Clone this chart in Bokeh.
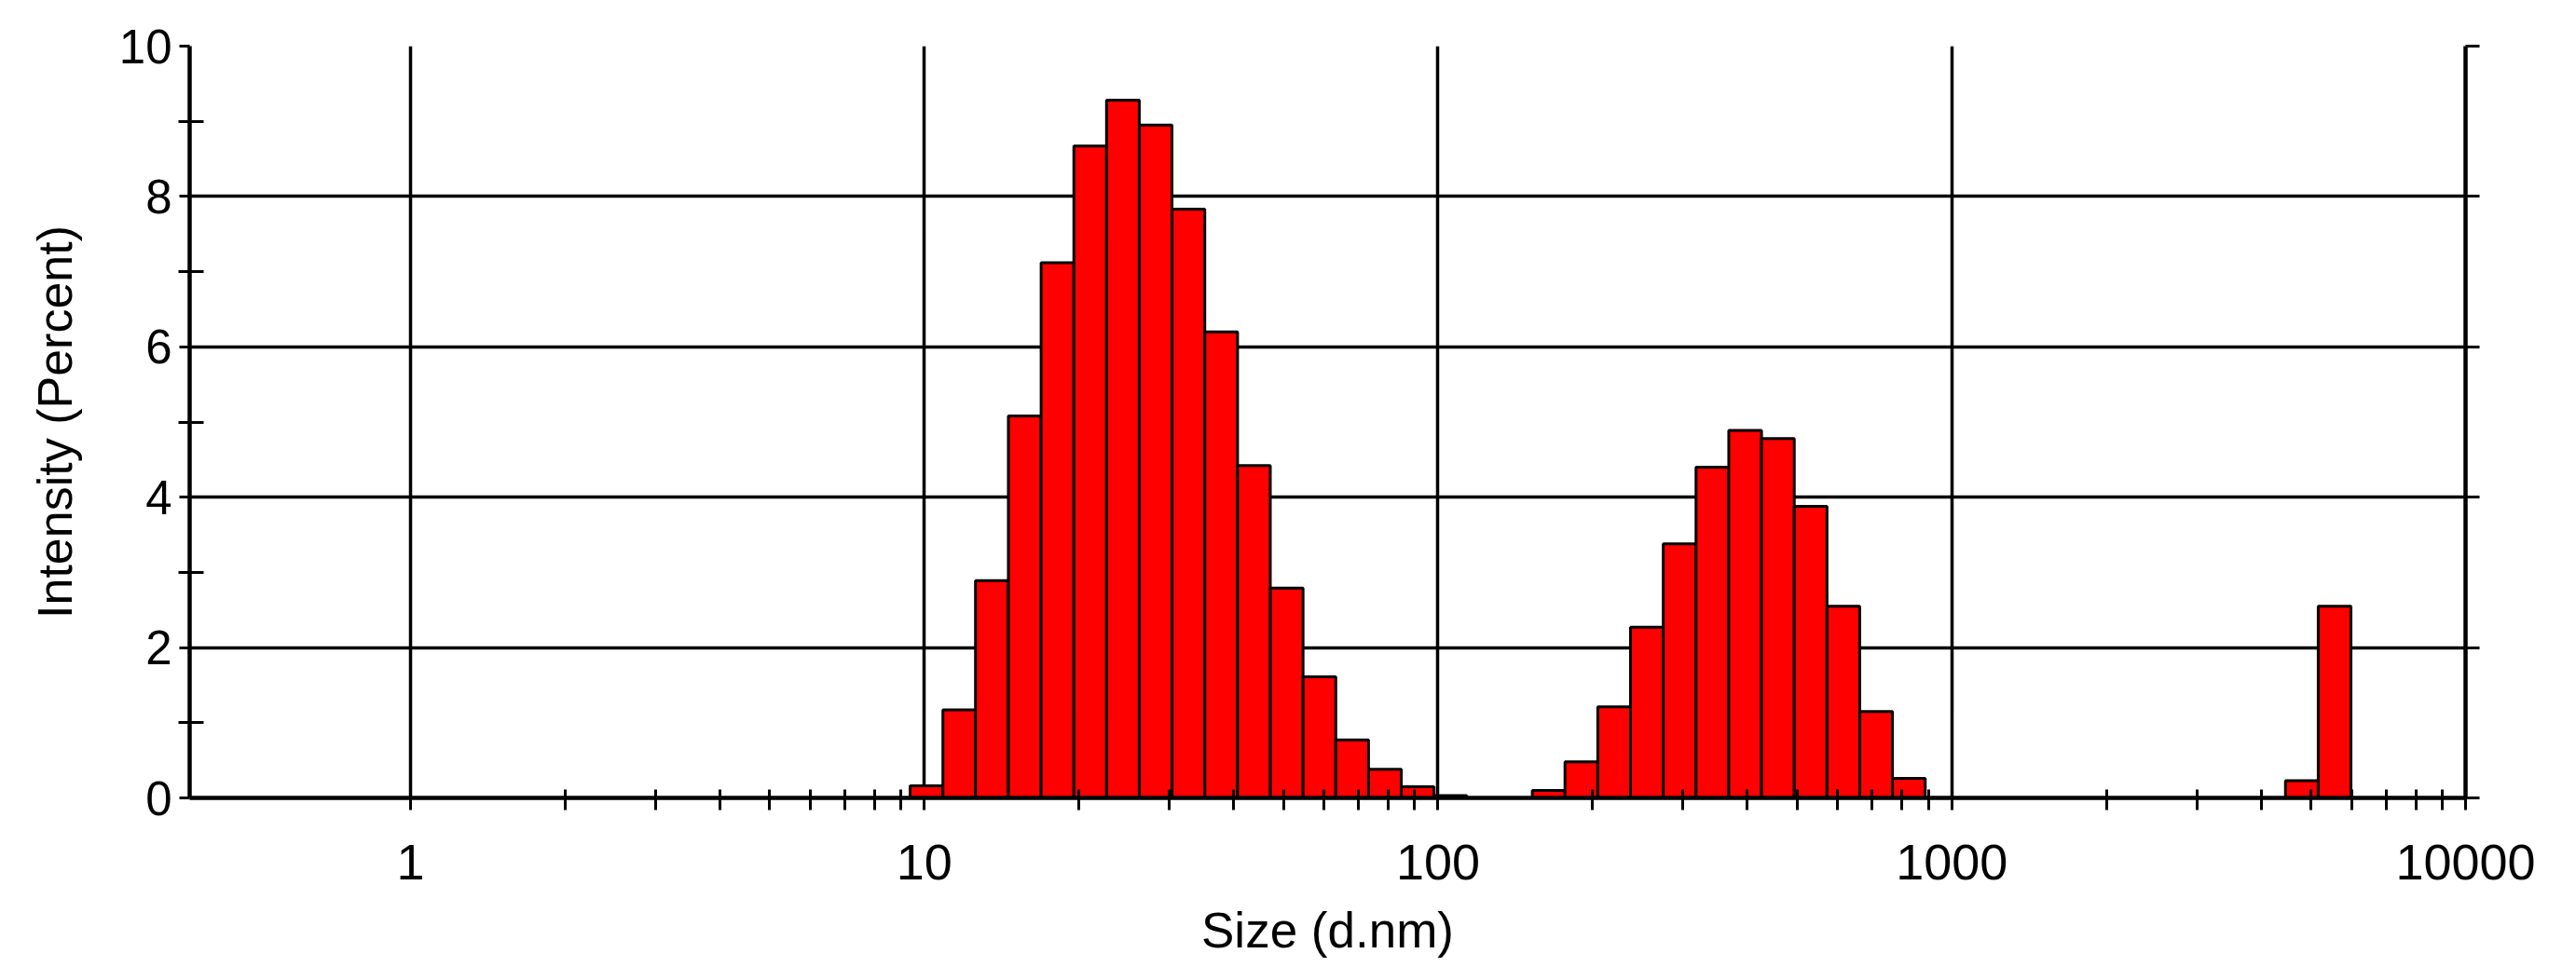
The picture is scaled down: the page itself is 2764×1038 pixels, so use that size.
import numpy as np
from bokeh.plotting import figure
from bokeh.models import FixedTicker, LinearAxis, Range1d, PrintfTickFormatter
from bokeh.embed import file_html
from bokeh.resources import INLINE

# ---- data ----
sizes_nm = [10.1, 11.7, 13.54, 15.69, 18.17, 21.04, 24.36, 28.21, 32.67, 37.84,
            43.82, 50.75, 58.77, 68.06, 78.82, 91.28, 105.7,
            164.2, 190.1, 220.2, 255.0, 295.3, 342.0, 396.1, 458.7, 531.2,
            615.1, 712.4, 825.0,
            4801.0, 5560.0]
intensity_pct = [0.16, 1.17, 2.89, 5.08, 7.12, 8.67, 9.28, 8.95, 7.83, 6.20,
                 4.42, 2.79, 1.61, 0.77, 0.38, 0.15, 0.03,
                 0.10, 0.48, 1.21, 2.27, 3.38, 4.40, 4.89, 4.78, 3.88,
                 2.55, 1.15, 0.26,
                 0.23, 2.55]
x_major_ticks = [1, 10, 100, 1000, 10000]
y_major_ticks = [0, 2, 4, 6, 8, 10]
y_minor_ticks = [1, 3, 5, 7, 9]
x_label = "Size (d.nm)"
y_label = "Intensity (Percent)"

# logarithmic bin ratio of the size classes
sizes = np.array(sizes_nm)
vals = np.array(intensity_pct)
ratio = float(np.exp(np.median(np.diff(np.log(sizes[:17])))))
half = np.sqrt(ratio)
left = sizes / half
right = sizes * half

x_minor = [m * d for d in x_major_ticks[:-1] for m in range(2, 10)]

FONT = "Liberation Sans"

p = figure(width=2756, height=1032, x_axis_type="log",
           x_range=Range1d(0.4 / half, 10000), y_range=Range1d(0, 10),
           output_backend="svg", toolbar_location=None,
           min_border_left=203, min_border_right=111,
           min_border_top=49, min_border_bottom=176)
p.outline_line_color = None
p.background_fill_color = "white"
p.border_fill_color = "white"

p.quad(left=left, right=right, bottom=0, top=vals,
       fill_color="#ff0000", line_color="black", line_width=3)

xt = FixedTicker(ticks=x_major_ticks, minor_ticks=x_minor)
yt = FixedTicker(ticks=y_major_ticks, minor_ticks=y_minor_ticks)

xa = p.xaxis[0]
xa.ticker = xt
xa.formatter = PrintfTickFormatter(format="%d")
xa.axis_label = x_label
xa.axis_line_width = 4.5
xa.axis_line_color = "black"
xa.major_tick_line_width = 3
xa.major_tick_out = 13
xa.major_tick_in = 0
xa.minor_tick_line_width = 3
xa.minor_tick_out = 13
xa.minor_tick_in = 9
xa.minor_tick_line_color = "black"
xa.major_label_text_font = FONT
xa.major_label_text_font_size = "54px"
xa.major_label_text_color = "black"
xa.major_label_standoff = 37
xa.axis_label_text_font = FONT
xa.axis_label_text_font_size = "53px"
xa.axis_label_text_font_style = "normal"
xa.axis_label_text_color = "black"
xa.axis_label_standoff = 22

ya = p.yaxis[0]
ya.ticker = yt
ya.axis_label = y_label
ya.axis_line_width = 4.5
ya.axis_line_color = "black"
ya.major_tick_line_width = 3
ya.major_tick_out = 11
ya.major_tick_in = 0
ya.minor_tick_line_width = 3
ya.minor_tick_out = 12
ya.minor_tick_in = 15
ya.minor_tick_line_color = "black"
ya.major_label_text_font = FONT
ya.major_label_text_font_size = "51px"
ya.major_label_text_color = "black"
ya.major_label_standoff = 7
ya.major_label_orientation = "horizontal"
ya.axis_label_text_font = FONT
ya.axis_label_text_font_size = "52px"
ya.axis_label_text_font_style = "normal"
ya.axis_label_text_color = "black"
ya.axis_label_standoff = 37

ra = LinearAxis(ticker=yt, axis_line_width=4.5, axis_line_color="black",
                major_tick_out=15, major_tick_in=0, major_tick_line_width=3,
                minor_tick_out=0, minor_tick_in=0,
                major_label_text_font_size="0px", major_label_text_color=None)
p.add_layout(ra, "right")

p.xgrid.ticker = xt
p.ygrid.ticker = yt
p.xgrid.grid_line_color = "black"
p.xgrid.grid_line_width = 3.5
p.ygrid.grid_line_color = "black"
p.ygrid.grid_line_width = 3.5
p.grid.level = "underlay"

open("out.html", "w").write(file_html(p, INLINE))
